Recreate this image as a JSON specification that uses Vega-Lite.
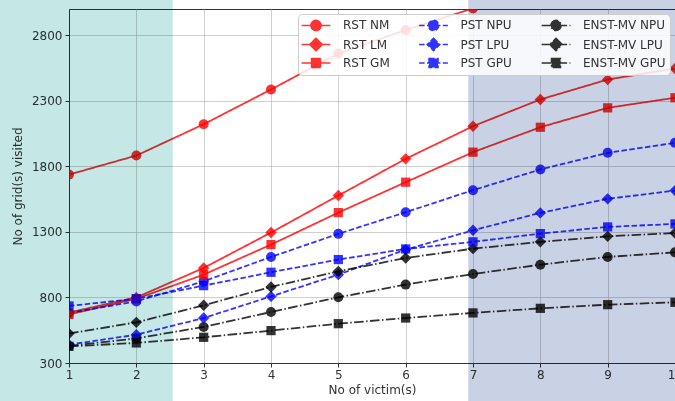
{
  "$schema": "https://vega.github.io/schema/vega-lite/v6.json",
  "width": 606,
  "height": 354,
  "autosize": {"type": "none"},
  "padding": {"left": 69, "top": 9, "right": 0, "bottom": 38},
  "background": "white",
  "config": {
    "font": "DejaVu Sans",
    "view": {"stroke": "#333333", "strokeWidth": 1},
    "legend": {"orient": "top-right", "offset": 5, "columns": 3, "padding": 4,
      "rowPadding": 0.5, "columnPadding": 25.5, "labelFontSize": 12, "labelColor": "#333333",
      "symbolSize": 144, "symbolOffset": 7, "labelOffset": 20, "strokeColor": "#cccccc", "cornerRadius": 4,
      "fillColor": "rgba(255,255,255,0.85)", "symbolStrokeWidth": 1.5, "symbolOpacity": 0.8}
  },
  "datasets": {
    "lines": [
      {"series": "RST NM", "x": 1, "y": 1737}, {"series": "RST NM", "x": 2, "y": 1882}, {"series": "RST NM", "x": 3, "y": 2121}, {"series": "RST NM", "x": 4, "y": 2386}, {"series": "RST NM", "x": 5, "y": 2660}, {"series": "RST NM", "x": 6, "y": 2840}, {"series": "RST NM", "x": 7, "y": 3005},
      {"series": "RST LM", "x": 1, "y": 685}, {"series": "RST LM", "x": 2, "y": 800}, {"series": "RST LM", "x": 3, "y": 1025}, {"series": "RST LM", "x": 4, "y": 1295}, {"series": "RST LM", "x": 5, "y": 1577}, {"series": "RST LM", "x": 6, "y": 1857}, {"series": "RST LM", "x": 7, "y": 2106}, {"series": "RST LM", "x": 8, "y": 2310}, {"series": "RST LM", "x": 9, "y": 2462}, {"series": "RST LM", "x": 10, "y": 2546},
      {"series": "RST GM", "x": 1, "y": 670}, {"series": "RST GM", "x": 2, "y": 790}, {"series": "RST GM", "x": 3, "y": 974}, {"series": "RST GM", "x": 4, "y": 1203}, {"series": "RST GM", "x": 5, "y": 1447}, {"series": "RST GM", "x": 6, "y": 1679}, {"series": "RST GM", "x": 7, "y": 1908}, {"series": "RST GM", "x": 8, "y": 2098}, {"series": "RST GM", "x": 9, "y": 2246}, {"series": "RST GM", "x": 10, "y": 2323},
      {"series": "PST NPU", "x": 1, "y": 682}, {"series": "PST NPU", "x": 2, "y": 770}, {"series": "PST NPU", "x": 3, "y": 923}, {"series": "PST NPU", "x": 4, "y": 1109}, {"series": "PST NPU", "x": 5, "y": 1285}, {"series": "PST NPU", "x": 6, "y": 1450}, {"series": "PST NPU", "x": 7, "y": 1618}, {"series": "PST NPU", "x": 8, "y": 1776}, {"series": "PST NPU", "x": 9, "y": 1903}, {"series": "PST NPU", "x": 10, "y": 1979},
      {"series": "PST LPU", "x": 1, "y": 440}, {"series": "PST LPU", "x": 2, "y": 516}, {"series": "PST LPU", "x": 3, "y": 643}, {"series": "PST LPU", "x": 4, "y": 808}, {"series": "PST LPU", "x": 5, "y": 974}, {"series": "PST LPU", "x": 6, "y": 1165}, {"series": "PST LPU", "x": 7, "y": 1312}, {"series": "PST LPU", "x": 8, "y": 1445}, {"series": "PST LPU", "x": 9, "y": 1552}, {"series": "PST LPU", "x": 10, "y": 1615},
      {"series": "PST GPU", "x": 1, "y": 735}, {"series": "PST GPU", "x": 2, "y": 790}, {"series": "PST GPU", "x": 3, "y": 890}, {"series": "PST GPU", "x": 4, "y": 992}, {"series": "PST GPU", "x": 5, "y": 1089}, {"series": "PST GPU", "x": 6, "y": 1170}, {"series": "PST GPU", "x": 7, "y": 1224}, {"series": "PST GPU", "x": 8, "y": 1287}, {"series": "PST GPU", "x": 9, "y": 1338}, {"series": "PST GPU", "x": 10, "y": 1361},
      {"series": "ENST-MV NPU", "x": 1, "y": 430}, {"series": "ENST-MV NPU", "x": 2, "y": 488}, {"series": "ENST-MV NPU", "x": 3, "y": 575}, {"series": "ENST-MV NPU", "x": 4, "y": 689}, {"series": "ENST-MV NPU", "x": 5, "y": 801}, {"series": "ENST-MV NPU", "x": 6, "y": 898}, {"series": "ENST-MV NPU", "x": 7, "y": 979}, {"series": "ENST-MV NPU", "x": 8, "y": 1050}, {"series": "ENST-MV NPU", "x": 9, "y": 1109}, {"series": "ENST-MV NPU", "x": 10, "y": 1144},
      {"series": "ENST-MV LPU", "x": 1, "y": 525}, {"series": "ENST-MV LPU", "x": 2, "y": 610}, {"series": "ENST-MV LPU", "x": 3, "y": 740}, {"series": "ENST-MV LPU", "x": 4, "y": 880}, {"series": "ENST-MV LPU", "x": 5, "y": 999}, {"series": "ENST-MV LPU", "x": 6, "y": 1101}, {"series": "ENST-MV LPU", "x": 7, "y": 1172}, {"series": "ENST-MV LPU", "x": 8, "y": 1224}, {"series": "ENST-MV LPU", "x": 9, "y": 1266}, {"series": "ENST-MV LPU", "x": 10, "y": 1292},
      {"series": "ENST-MV GPU", "x": 1, "y": 427}, {"series": "ENST-MV GPU", "x": 2, "y": 453}, {"series": "ENST-MV GPU", "x": 3, "y": 496}, {"series": "ENST-MV GPU", "x": 4, "y": 547}, {"series": "ENST-MV GPU", "x": 5, "y": 600}, {"series": "ENST-MV GPU", "x": 6, "y": 643}, {"series": "ENST-MV GPU", "x": 7, "y": 682}, {"series": "ENST-MV GPU", "x": 8, "y": 717}, {"series": "ENST-MV GPU", "x": 9, "y": 745}, {"series": "ENST-MV GPU", "x": 10, "y": 763}
    ],
    "zones": [
      {"zone": "left", "x0": -0.1, "x1": 2.54, "y0": 0, "y1": 3100},
      {"zone": "right", "x0": 6.93, "x1": 10.2, "y0": 0, "y1": 3100}
    ]
  },
  "layer": [
    {
      "data": {"name": "lines"},
      "mark": {"type": "line", "strokeWidth": 1.8, "opacity": 0.8, "clip": true},
      "encoding": {
        "x": {"field": "x", "type": "quantitative",
          "scale": {"domain": [1, 10], "nice": false, "zero": false},
          "axis": {"values": [1, 2, 3, 4, 5, 6, 7, 8, 9, 10], "format": "d", "title": "No of victim(s)", "grid": true,
            "labelFlush": false, "labelOverlap": false, "tickSize": 4, "labelPadding": 2, "titlePadding": 4,
            "labelFontSize": 12, "titleFontSize": 12, "titleFontWeight": "normal", "labelColor": "#333333", "titleColor": "#333333",
            "domainColor": "#333333", "tickColor": "#333333", "gridColor": "#b0b0b0", "gridOpacity": 0.6}},
        "y": {"field": "y", "type": "quantitative",
          "scale": {"domain": [300, 3000], "nice": false, "zero": false},
          "axis": {"values": [300, 800, 1300, 1800, 2300, 2800], "format": "d", "title": "No of grid(s) visited", "grid": true,
            "labelFlush": false, "labelOverlap": false, "tickSize": 4, "labelPadding": 3, "titlePadding": 7,
            "labelFontSize": 12, "titleFontSize": 12, "titleFontWeight": "normal", "labelColor": "#333333", "titleColor": "#333333",
            "domainColor": "#333333", "tickColor": "#333333", "gridColor": "#b0b0b0", "gridOpacity": 0.6}},
        "color": {"field": "series", "type": "nominal", "title": null,
          "scale": {"domain": ["RST NM", "RST LM", "RST GM", "PST NPU", "PST LPU", "PST GPU", "ENST-MV NPU", "ENST-MV LPU", "ENST-MV GPU"],
                    "range": ["#ff0000", "#ff0000", "#ff0000", "#0000ff", "#0000ff", "#0000ff", "#000000", "#000000", "#000000"]}},
        "strokeDash": {"field": "series", "type": "nominal", "title": null,
          "scale": {"domain": ["RST NM", "RST LM", "RST GM", "PST NPU", "PST LPU", "PST GPU", "ENST-MV NPU", "ENST-MV LPU", "ENST-MV GPU"],
                    "range": [[1, 0], [1, 0], [1, 0], [5.5, 2.4], [5.5, 2.4], [5.5, 2.4], [9.6, 2.4, 1.5, 2.4], [9.6, 2.4, 1.5, 2.4], [9.6, 2.4, 1.5, 2.4]]}}
      }
    },
    {
      "data": {"name": "lines"},
      "transform": [{"filter": {"field": "series", "oneOf": ["RST NM", "PST NPU", "ENST-MV NPU"]}}],
      "mark": {"type": "point", "shape": "circle", "filled": true, "size": 100, "opacity": 0.8, "clip": true},
      "encoding": {
        "x": {"field": "x", "type": "quantitative", "scale": {"domain": [1, 10], "nice": false, "zero": false}},
        "y": {"field": "y", "type": "quantitative", "scale": {"domain": [300, 3000], "nice": false, "zero": false}},
        "color": {"field": "series", "type": "nominal", "title": null}
      }
    },
    {
      "data": {"name": "lines"},
      "transform": [{"filter": {"field": "series", "oneOf": ["RST LM", "PST LPU", "ENST-MV LPU"]}}],
      "mark": {"type": "point", "shape": "diamond", "filled": true, "size": 130, "opacity": 0.8, "clip": true},
      "encoding": {
        "x": {"field": "x", "type": "quantitative", "scale": {"domain": [1, 10], "nice": false, "zero": false}},
        "y": {"field": "y", "type": "quantitative", "scale": {"domain": [300, 3000], "nice": false, "zero": false}},
        "color": {"field": "series", "type": "nominal", "title": null}
      }
    },
    {
      "data": {"name": "lines"},
      "transform": [{"filter": {"field": "series", "oneOf": ["RST GM", "PST GPU", "ENST-MV GPU"]}}],
      "mark": {"type": "point", "shape": "square", "filled": true, "size": 85, "opacity": 0.8, "clip": true},
      "encoding": {
        "x": {"field": "x", "type": "quantitative", "scale": {"domain": [1, 10], "nice": false, "zero": false}},
        "y": {"field": "y", "type": "quantitative", "scale": {"domain": [300, 3000], "nice": false, "zero": false}},
        "color": {"field": "series", "type": "nominal", "title": null}
      }
    },
    {
      "data": {"name": "lines"},
      "transform": [{"filter": {"field": "x", "equal": -1}}],
      "mark": {"type": "point", "filled": true, "size": 144, "opacity": 0.8, "strokeWidth": 1.5},
      "encoding": {
        "x": {"field": "x", "type": "quantitative", "scale": {"domain": [1, 10], "nice": false, "zero": false}},
        "y": {"field": "y", "type": "quantitative", "scale": {"domain": [300, 3000], "nice": false, "zero": false}},
        "color": {"field": "series", "type": "nominal", "title": null},
        "stroke": {"field": "series", "type": "nominal", "title": null,
          "scale": {"domain": ["RST NM", "RST LM", "RST GM", "PST NPU", "PST LPU", "PST GPU", "ENST-MV NPU", "ENST-MV LPU", "ENST-MV GPU"],
                    "range": ["#ff0000", "#ff0000", "#ff0000", "#0000ff", "#0000ff", "#0000ff", "#000000", "#000000", "#000000"]}},
        "strokeDash": {"field": "series", "type": "nominal", "title": null},
        "shape": {"field": "series", "type": "nominal", "title": null,
          "scale": {"domain": ["RST NM", "RST LM", "RST GM", "PST NPU", "PST LPU", "PST GPU", "ENST-MV NPU", "ENST-MV LPU", "ENST-MV GPU"],
                    "range": [
                      "M-2.4,0H2.4M0.85,0A0.85,0.85,0,1,1,-0.85,0A0.85,0.85,0,1,1,0.85,0Z",
                      "M-2.4,0H2.4M0,-1.05L1.05,0L0,1.05L-1.05,0Z",
                      "M-2.4,0H2.4M-0.75,-0.75H0.75V0.75H-0.75Z",
                      "M-2.4,0H2.4M0.85,0A0.85,0.85,0,1,1,-0.85,0A0.85,0.85,0,1,1,0.85,0Z",
                      "M-2.4,0H2.4M0,-1.05L1.05,0L0,1.05L-1.05,0Z",
                      "M-2.4,0H2.4M-0.75,-0.75H0.75V0.75H-0.75Z",
                      "M-2.4,0H2.4M0.85,0A0.85,0.85,0,1,1,-0.85,0A0.85,0.85,0,1,1,0.85,0Z",
                      "M-2.4,0H2.4M0,-1.05L1.05,0L0,1.05L-1.05,0Z",
                      "M-2.4,0H2.4M-0.75,-0.75H0.75V0.75H-0.75Z"]}}
      }
    },
    {
      "data": {"name": "zones"},
      "mark": {"type": "rect", "blend": "multiply", "clip": false},
      "encoding": {
        "x": {"field": "x0", "type": "quantitative", "scale": {"domain": [1, 10], "nice": false, "zero": false}},
        "x2": {"field": "x1"},
        "y": {"field": "y0", "type": "quantitative", "scale": {"domain": [300, 3000], "nice": false, "zero": false}},
        "y2": {"field": "y1"},
        "fill": {"field": "zone", "type": "nominal", "scale": {"domain": ["left", "right"], "range": ["#c5e8e6", "#c9d1e4"]}, "legend": null}
      }
    }
  ]
}
